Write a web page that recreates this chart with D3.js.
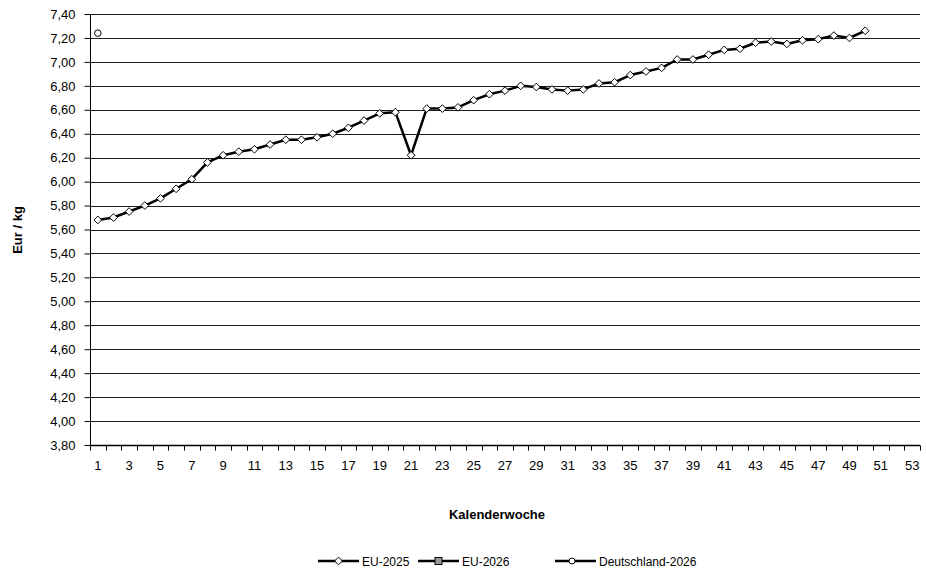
<!DOCTYPE html>
<html>
<head>
<meta charset="utf-8">
<script src="https://cdn.jsdelivr.net/npm/d3@7"></script>
<style>
  body { margin: 0; background: #fff; }
  svg { font-family: Arial, "Liberation Sans", sans-serif; }
</style>
</head>
<body>
<div id="chart"></div>
<script>
'use strict';

// weeks 1..53
var weeks = d3.range(1, 54);

var eu2025 = [
  5.68, 5.70, 5.75, 5.80, 5.86, 5.94, 6.02, 6.16, 6.22, 6.25,
  6.27, 6.31, 6.35, 6.35, 6.37, 6.40, 6.45, 6.51, 6.57, 6.58,
  6.22, 6.61, 6.61, 6.62, 6.68, 6.73, 6.76, 6.80, 6.79, 6.77,
  6.76, 6.77, 6.82, 6.83, 6.89, 6.92, 6.95, 7.02, 7.02, 7.06,
  7.10, 7.11, 7.16, 7.17, 7.15, 7.18, 7.19, 7.22, 7.20, 7.26
];
var eu2026 = [];
var deutschland2026 = [7.24];

var yTicks = d3.range(3.8, 7.401, 0.2);
var seriesNames = ['EU-2025', 'EU-2026', 'Deutschland-2026'];

var width = 926, height = 572;
var margin = { left: 90, right: 6, top: 14, bottom: 127 };
var fs = '13px';

var svg = d3.select('#chart')
  .append('svg')
  .attr('width', width)
  .attr('height', height);

var x = d3.scaleBand()
  .domain(weeks)
  .range([margin.left, width - margin.right]);

var y = d3.scaleLinear()
  .domain([3.8, 7.4])
  .range([height - margin.bottom, margin.top]);

var fmt = function (d) { return d3.format('.2f')(d).replace('.', ','); };

// gridlines
svg.append('g')
  .selectAll('line')
  .data(yTicks)
  .enter().append('line')
  .attr('x1', margin.left)
  .attr('x2', width - margin.right)
  .attr('y1', function (d) { return Math.round(y(d)) + 0.5; })
  .attr('y2', function (d) { return Math.round(y(d)) + 0.5; })
  .style('stroke', '#1a1a1a')
  .style('stroke-width', 1);

// y axis
var yAxis = svg.append('g')
  .attr('transform', 'translate(' + (margin.left + 0.5) + ',0)')
  .call(d3.axisLeft(y).tickValues(yTicks).tickFormat(fmt).tickSize(6).tickPadding(9));
yAxis.selectAll('text').style('font-size', fs).style('fill', '#000');
yAxis.selectAll('line,path').style('stroke', '#000');
yAxis.select('.domain').attr('d', 'M0,' + y(7.4) + 'V' + y(3.8));

// x axis (ticks between categories)
var xg = svg.append('g')
  .attr('transform', 'translate(0,' + (Math.round(y(3.8)) + 0.5) + ')');
xg.append('line')
  .attr('x1', margin.left).attr('x2', width - margin.right)
  .style('stroke', '#000').style('stroke-width', 1.5);
xg.selectAll('.tk')
  .data(weeks.concat([54]))
  .enter().append('line')
  .attr('class', 'tk')
  .attr('x1', function (d) { return Math.round(margin.left + (d - 1) * x.step()) + 0.5; })
  .attr('x2', function (d) { return Math.round(margin.left + (d - 1) * x.step()) + 0.5; })
  .attr('y1', 0).attr('y2', 5)
  .style('stroke', '#000');
xg.selectAll('text')
  .data(weeks.filter(function (d) { return d % 2 === 1; }))
  .enter().append('text')
  .attr('x', function (d) { return x(d) + x.bandwidth() / 2; })
  .attr('y', 24)
  .attr('text-anchor', 'middle')
  .style('font-size', fs)
  .text(function (d) { return d; });

// axis titles
svg.append('text')
  .attr('x', 497).attr('y', 519)
  .attr('text-anchor', 'middle')
  .style('font-size', fs).style('font-weight', 'bold')
  .text('Kalenderwoche');
svg.append('text')
  .attr('transform', 'translate(22,' + 230 + ') rotate(-90)')
  .attr('text-anchor', 'middle')
  .style('font-size', fs).style('font-weight', 'bold')
  .text('Eur / kg');

var cx = function (d, i) { return x(weeks[i]) + x.bandwidth() / 2; };

// EU-2025 line
var line = d3.line()
  .x(cx)
  .y(function (d) { return y(d); });

svg.append('path')
  .datum(eu2025)
  .attr('d', line)
  .style('fill', 'none')
  .style('stroke', '#000')
  .style('stroke-width', 2.5)
  .style('stroke-linejoin', 'round');

var diamond = d3.symbol().type(d3.symbolDiamond2).size(38);

svg.append('g')
  .selectAll('path')
  .data(eu2025)
  .enter().append('path')
  .attr('d', diamond)
  .attr('transform', function (d, i) { return 'translate(' + cx(d, i) + ',' + y(d) + ')'; })
  .style('fill', '#fff')
  .style('stroke', '#000')
  .style('stroke-width', 1);

// EU-2026 has no values yet
svg.append('g')
  .selectAll('rect')
  .data(eu2026)
  .enter().append('rect')
  .attr('x', function (d, i) { return cx(d, i) - 3; })
  .attr('y', function (d) { return y(d) - 3; })
  .attr('width', 6).attr('height', 6)
  .style('fill', '#999').style('stroke', '#000');

// Deutschland-2026
svg.append('g')
  .selectAll('circle')
  .data(deutschland2026)
  .enter().append('circle')
  .attr('cx', cx)
  .attr('cy', function (d) { return y(d); })
  .attr('r', 3.3)
  .style('fill', '#fff')
  .style('stroke', '#000')
  .style('stroke-width', 1);

// legend
var legendX = [318, 418, 555];
var lg = svg.append('g').attr('transform', 'translate(0,561)');
var items = lg.selectAll('g')
  .data(seriesNames)
  .enter().append('g')
  .attr('transform', function (d, i) { return 'translate(' + legendX[i] + ',0)'; });
items.append('line')
  .attr('x1', 0).attr('x2', 41)
  .style('stroke', '#000').style('stroke-width', 2.5);
items.append('path')
  .filter(function (d, i) { return i === 0; })
  .attr('d', diamond)
  .attr('transform', 'translate(20.5,0)')
  .style('fill', '#fff').style('stroke', '#000');
items.filter(function (d, i) { return i === 1; })
  .append('rect')
  .attr('x', 17).attr('y', -3.5).attr('width', 7).attr('height', 7)
  .style('fill', '#999').style('stroke', '#000');
items.filter(function (d, i) { return i === 2; })
  .append('circle')
  .attr('cx', 17).attr('r', 3)
  .style('fill', '#fff').style('stroke', '#000');
items.append('text')
  .attr('x', 44).attr('y', 4.5)
  .style('font-size', '12px')
  .text(function (d) { return d; });
</script>
</body>
</html>
